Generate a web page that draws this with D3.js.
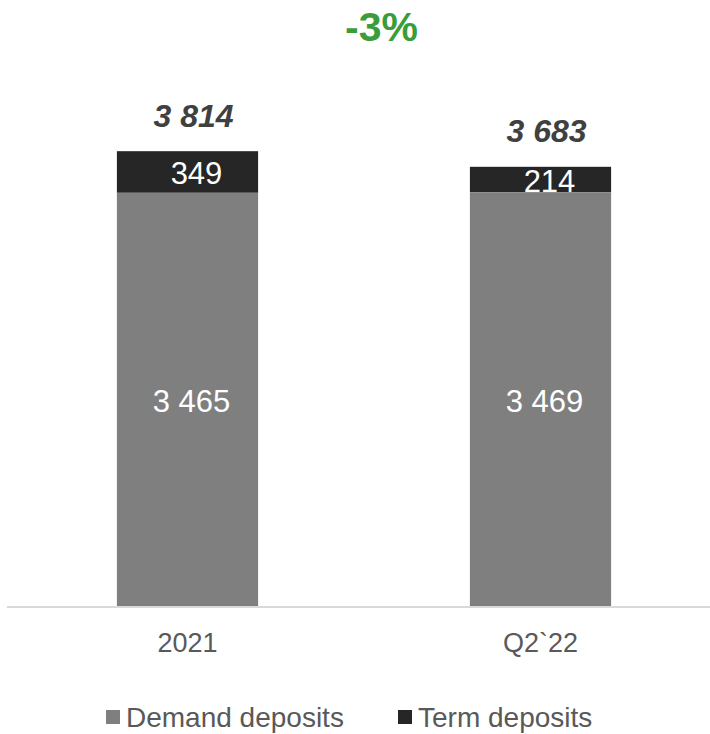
<!DOCTYPE html>
<html>
<head>
<meta charset="utf-8">
<script src="https://cdn.jsdelivr.net/npm/d3@7"></script>
<style>
  html, body { margin: 0; padding: 0; background: #ffffff; }
  svg { display: block; font-family: "Liberation Sans", Arial, sans-serif; }
</style>
</head>
<body>
<svg id="chart" width="710" height="734"></svg>
<script>
// Deposits by type, two periods
const categories = ["2021", "Q2`22"];
const demandDeposits = [3465, 3469];
const termDeposits = [349, 214];
const totals = [3814, 3683];
const seriesNames = ["Demand deposits", "Term deposits"];
const changeLabel = "-3%";

const colors = { demand: "#7f7f7f", term: "#262626" };
const fmt = v => d3.format(",")(v).replace(/,/g, " ");

const svg = d3.select("#chart");
const baseY = 606;

const x = d3.scaleBand()
  .domain(categories)
  .range([11, 717])
  .paddingInner(0.6)
  .paddingOuter(0.3);

const y = d3.scaleLinear()
  .domain([0, 4000])
  .range([baseY, baseY - 477]);

const rows = categories.map((c, i) => ({
  cat: c, demand: demandDeposits[i], term: termDeposits[i], total: totals[i]
}));

// Term deposits segment (top of stack)
svg.append("g").selectAll("rect")
  .data(rows).join("rect")
  .attr("x", d => x(d.cat))
  .attr("width", x.bandwidth())
  .attr("y", d => y(d.demand + d.term))
  .attr("height", d => y(d.demand) - y(d.demand + d.term))
  .attr("fill", colors.term);

// Term deposit values, partly covered by the segment below
svg.append("g").selectAll("text")
  .data(rows).join("text")
  .attr("x", d => x(d.cat) + x.bandwidth() / 2 + 9)
  .attr("y", d => (y(d.demand) + y(d.demand + d.term)) / 2 + 12.5)
  .attr("text-anchor", "middle")
  .attr("fill", "#ffffff")
  .attr("font-size", 31)
  .text(d => fmt(d.term));

// Demand deposits segment
svg.append("g").selectAll("rect")
  .data(rows).join("rect")
  .attr("x", d => x(d.cat))
  .attr("width", x.bandwidth())
  .attr("y", d => y(d.demand))
  .attr("height", d => y(0) - y(d.demand))
  .attr("fill", colors.demand);

svg.append("g").selectAll("text")
  .data(rows).join("text")
  .attr("x", d => x(d.cat) + x.bandwidth() / 2 + 4)
  .attr("y", d => (y(0) + y(d.demand)) / 2 + 12.5)
  .attr("text-anchor", "middle")
  .attr("fill", "#ffffff")
  .attr("font-size", 31)
  .text(d => fmt(d.demand));

// Totals above each stack
svg.append("g").selectAll("text")
  .data(rows).join("text")
  .attr("x", d => x(d.cat) + x.bandwidth() / 2 + 6)
  .attr("y", d => y(d.total) - 24.5)
  .attr("text-anchor", "middle")
  .attr("fill", "#404040")
  .attr("font-size", 32)
  .attr("font-weight", "bold")
  .attr("font-style", "italic")
  .text(d => fmt(d.total));

// Baseline axis
const xAxis = d3.axisBottom(x).tickSize(0).tickPadding(0);
const axisG = svg.append("g")
  .attr("transform", `translate(0,${baseY})`)
  .call(xAxis);
axisG.select(".domain").remove();
axisG.append("line")
  .attr("x1", 7).attr("x2", 710)
  .attr("y1", 1).attr("y2", 1)
  .attr("stroke", "#d9d9d9")
  .attr("stroke-width", 2);
axisG.selectAll(".tick text")
  .attr("dy", 0)
  .attr("y", 46)
  .attr("fill", "#595959")
  .attr("font-size", 27)
  .attr("font-family", "Liberation Sans, Arial, sans-serif");

// Change between periods
svg.append("text")
  .attr("x", 381.5)
  .attr("y", 41)
  .attr("text-anchor", "middle")
  .attr("fill", "#3a9d3a")
  .attr("font-size", 41)
  .attr("font-weight", "bold")
  .text(changeLabel);

// Legend
const legendItems = [
  { name: seriesNames[0], color: colors.demand, x: 106 },
  { name: seriesNames[1], color: colors.term, x: 398 }
];
const legend = svg.append("g").attr("transform", "translate(0,727)");
const li = legend.selectAll("g").data(legendItems).join("g")
  .attr("transform", d => `translate(${d.x},0)`);
li.append("rect")
  .attr("x", 0).attr("y", -17)
  .attr("width", 14).attr("height", 14)
  .attr("fill", d => d.color);
li.append("text")
  .attr("x", 20)
  .attr("y", 0)
  .attr("fill", "#595959")
  .attr("font-size", 28)
  .text(d => d.name);
</script>
</body>
</html>
